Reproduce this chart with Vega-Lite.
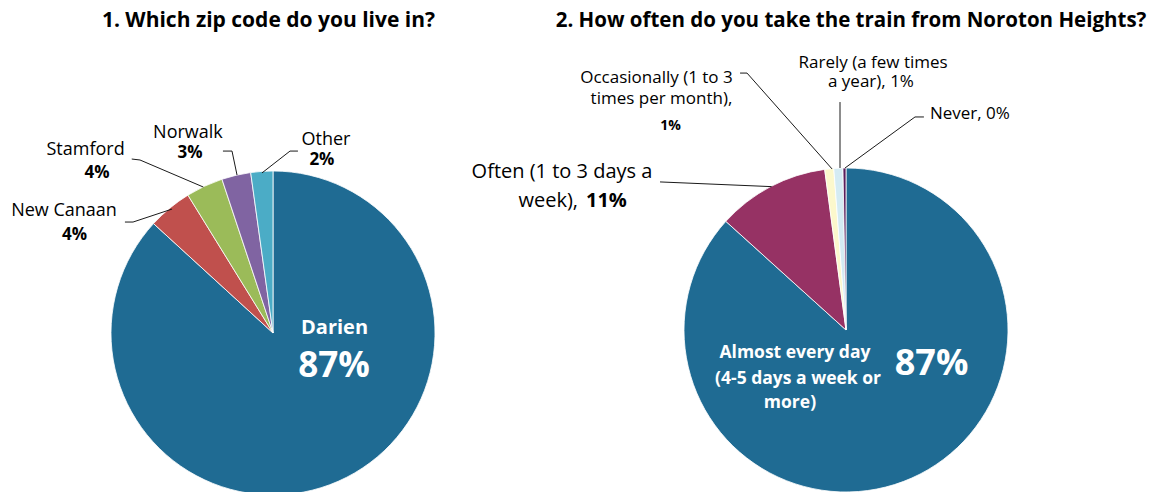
{
  "$schema": "https://vega.github.io/schema/vega-lite/v6.json",
  "padding": 0,
  "spacing": 0,
  "config": {"view": {"stroke": null}, "font": "Open Sans", "text": {"font": "Open Sans"}},
  "resolve": {"scale": {"color": "independent", "theta": "independent"}},
  "datasets": {
    "zips": [
      {"zip": "Darien", "pct": 86.8, "rank": 1, "u": 0, "v": 0},
      {"zip": "New Canaan", "pct": 4.4, "rank": 2, "u": 0, "v": 0},
      {"zip": "Stamford", "pct": 3.7, "rank": 3, "u": 0, "v": 0},
      {"zip": "Norwalk", "pct": 2.9, "rank": 4, "u": 0, "v": 0},
      {"zip": "Other", "pct": 2.2, "rank": 5, "u": 0, "v": 0}
    ],
    "freq": [
      {"freq": "Almost every day (4-5 days a week or more)", "pct": 86.7, "rank": 1, "u": 0, "v": 0},
      {"freq": "Often (1 to 3 days a week)", "pct": 11.2, "rank": 2, "u": 0, "v": 0},
      {"freq": "Occasionally (1 to 3 times per month)", "pct": 0.9, "rank": 3, "u": 0, "v": 0},
      {"freq": "Rarely (a few times a year)", "pct": 0.9, "rank": 4, "u": 0, "v": 0},
      {"freq": "Never", "pct": 0.3, "rank": 5, "u": 0, "v": 0}
    ],
    "labels1": [
      {"text": "1. Which zip code do you live in?", "u": -2.8, "v": 188.9, "kind": "title"},
      {"text": "Stamford", "u": -115.7, "v": 109.9, "kind": "name"},
      {"text": "4%", "u": -108.6, "v": 95.7, "kind": "pct"},
      {"text": "New Canaan", "u": -129.0, "v": 72.2, "kind": "name"},
      {"text": "4%", "u": -122.5, "v": 57.4, "kind": "pct"},
      {"text": "Norwalk", "u": -52.5, "v": 120.4, "kind": "name"},
      {"text": "3%", "u": -51.2, "v": 108.0, "kind": "pct"},
      {"text": "Other", "u": 32.7, "v": 116.0, "kind": "name"},
      {"text": "2%", "u": 30.2, "v": 103.7, "kind": "pct"},
      {"text": "Darien", "u": 38.0, "v": -0.6, "kind": "inName"},
      {"text": "87%", "u": 37.7, "v": -27.2, "kind": "inPct"}
    ],
    "segs1": [
      {"u": -87.2, "v": 107.4, "u2": -82.1, "v2": 106.8},
      {"u": -82.1, "v": 106.8, "u2": -43.0, "v2": 90.1},
      {"u": -91.4, "v": 68.5, "u2": -86.4, "v2": 68.5},
      {"u": -86.4, "v": 68.5, "u2": -62.3, "v2": 76.5},
      {"u": -30.9, "v": 112.3, "u2": -25.3, "v2": 112.3},
      {"u": -25.3, "v": 112.3, "u2": -22.2, "v2": 97.5},
      {"u": 15.4, "v": 112.3, "u2": 10.5, "v2": 112.3},
      {"u": 10.5, "v": 112.3, "u2": -6.8, "v2": 98.8}
    ],
    "labels2": [
      {"text": "2. How often do you take the train from Noroton Heights?", "u": 3.1, "v": 187.0, "kind": "title"},
      {"text": "Occasionally (1 to 3", "u": -117.0, "v": 152.5, "kind": "name"},
      {"text": "times per month),", "u": -113.9, "v": 139.5, "kind": "name"},
      {"text": "1%", "u": -108.3, "v": 123.5, "kind": "pct"},
      {"text": "Rarely (a few times", "u": 16.7, "v": 161.7, "kind": "name"},
      {"text": "a year), 1%", "u": 15.4, "v": 150.0, "kind": "name"},
      {"text": "Never, 0%", "u": 76.5, "v": 130.2, "kind": "name"},
      {"text": "Often (1 to 3 days a", "u": -175.3, "v": 93.8, "kind": "big"},
      {"text": "week),", "u": -165.4, "v": 75.9, "kind": "bigR"},
      {"text": "11%", "u": -160.5, "v": 75.9, "kind": "bigPctL"},
      {"text": "Almost every day", "u": -31.5, "v": -17.3, "kind": "inName"},
      {"text": "(4-5 days a week or", "u": -29.6, "v": -33.3, "kind": "inName"},
      {"text": "more)", "u": -34.6, "v": -48.1, "kind": "inName"},
      {"text": "87%", "u": 52.8, "v": -27.8, "kind": "inPct"}
    ],
    "segs2": [
      {"u": -65.4, "v": 158.6, "u2": -61.1, "v2": 158.6},
      {"u": -61.1, "v": 158.6, "u2": -8.6, "v2": 99.4},
      {"u": -3.7, "v": 140.7, "u2": -3.7, "v2": 100.0},
      {"u": 42.6, "v": 131.5, "u2": 48.1, "v2": 131.5},
      {"u": 42.6, "v": 131.5, "u2": -0.6, "v2": 100.0},
      {"u": -114.8, "v": 91.4, "u2": -45.9, "v2": 88.5}
    ]
  },
  "hconcat": [
    {
      "width": 455,
      "height": 492,
      "encoding": {
        "x": {"field": "u", "type": "quantitative", "scale": {"domain": [-168.52, 112.35], "nice": false, "zero": false}, "axis": null},
        "y": {"field": "v", "type": "quantitative", "scale": {"domain": [-98.15, 205.56], "nice": false, "zero": false}, "axis": null}
      },
      "layer": [
        {
          "data": {"name": "zips"},
          "mark": {"type": "arc", "outerRadius": 162, "stroke": "#ffffff", "strokeWidth": 0.8, "clip": true},
          "encoding": {
            "theta": {"field": "pct", "type": "quantitative", "stack": true},
            "order": {"field": "rank", "type": "quantitative", "sort": "ascending"},
            "color": {"field": "zip", "type": "nominal", "scale": {"domain": ["Darien", "New Canaan", "Stamford", "Norwalk", "Other"], "range": ["#1F6B93", "#C0504D", "#9BBB59", "#8064A2", "#4BACC6"]}, "legend": null}
          }
        },
        {
          "data": {"name": "segs1"},
          "mark": {"type": "rule", "color": "#1a1a1a", "strokeWidth": 1},
          "encoding": {"x2": {"field": "u2"}, "y2": {"field": "v2"}}
        },
        {
          "data": {"name": "labels1"},
          "transform": [{"filter": "datum.kind === 'title'"}],
          "mark": {"type": "text", "fontSize": 21, "fontWeight": "bold", "align": "center", "baseline": "alphabetic", "color": "#000000"},
          "encoding": {"text": {"field": "text"}}
        },
        {
          "data": {"name": "labels1"},
          "transform": [{"filter": "datum.kind === 'name'"}],
          "mark": {"type": "text", "fontSize": 18, "align": "center", "baseline": "alphabetic", "color": "#000000"},
          "encoding": {"text": {"field": "text"}}
        },
        {
          "data": {"name": "labels1"},
          "transform": [{"filter": "datum.kind === 'pct'"}],
          "mark": {"type": "text", "fontSize": 17, "fontWeight": "bold", "align": "center", "baseline": "alphabetic", "color": "#000000"},
          "encoding": {"text": {"field": "text"}}
        },
        {
          "data": {"name": "labels1"},
          "transform": [{"filter": "datum.kind === 'inName'"}],
          "mark": {"type": "text", "fontSize": 20, "fontWeight": "bold", "align": "center", "baseline": "alphabetic", "color": "#ffffff"},
          "encoding": {"text": {"field": "text"}}
        },
        {
          "data": {"name": "labels1"},
          "transform": [{"filter": "datum.kind === 'inPct'"}],
          "mark": {"type": "text", "fontSize": 35, "fontWeight": "bold", "align": "center", "baseline": "alphabetic", "color": "#ffffff"},
          "encoding": {"text": {"field": "text"}}
        }
      ]
    },
    {
      "width": 698,
      "height": 492,
      "encoding": {
        "x": {"field": "u", "type": "quantitative", "scale": {"domain": [-241.36, 189.51], "nice": false, "zero": false}, "axis": null},
        "y": {"field": "v", "type": "quantitative", "scale": {"domain": [-100, 203.7], "nice": false, "zero": false}, "axis": null}
      },
      "layer": [
        {
          "data": {"name": "freq"},
          "mark": {"type": "arc", "outerRadius": 162, "stroke": "#ffffff", "strokeWidth": 0.8, "clip": true},
          "encoding": {
            "theta": {"field": "pct", "type": "quantitative", "stack": true},
            "order": {"field": "rank", "type": "quantitative", "sort": "ascending"},
            "color": {"field": "freq", "type": "nominal", "scale": {"domain": ["Almost every day (4-5 days a week or more)", "Often (1 to 3 days a week)", "Occasionally (1 to 3 times per month)", "Rarely (a few times a year)", "Never"], "range": ["#1F6B93", "#963264", "#FCF8CC", "#D4EBF3", "#5A1E5C"]}, "legend": null}
          }
        },
        {
          "data": {"name": "segs2"},
          "mark": {"type": "rule", "color": "#1a1a1a", "strokeWidth": 1},
          "encoding": {"x2": {"field": "u2"}, "y2": {"field": "v2"}}
        },
        {
          "data": {"name": "labels2"},
          "transform": [{"filter": "datum.kind === 'title'"}],
          "mark": {"type": "text", "fontSize": 20.5, "fontWeight": "bold", "align": "center", "baseline": "alphabetic", "color": "#000000"},
          "encoding": {"text": {"field": "text"}}
        },
        {
          "data": {"name": "labels2"},
          "transform": [{"filter": "datum.kind === 'name'"}],
          "mark": {"type": "text", "fontSize": 17, "align": "center", "baseline": "alphabetic", "color": "#000000"},
          "encoding": {"text": {"field": "text"}}
        },
        {
          "data": {"name": "labels2"},
          "transform": [{"filter": "datum.kind === 'pct'"}],
          "mark": {"type": "text", "fontSize": 14, "fontWeight": "bold", "align": "center", "baseline": "alphabetic", "color": "#000000"},
          "encoding": {"text": {"field": "text"}}
        },
        {
          "data": {"name": "labels2"},
          "transform": [{"filter": "datum.kind === 'big'"}],
          "mark": {"type": "text", "fontSize": 20, "align": "center", "baseline": "alphabetic", "color": "#000000"},
          "encoding": {"text": {"field": "text"}}
        },
        {
          "data": {"name": "labels2"},
          "transform": [{"filter": "datum.kind === 'bigR'"}],
          "mark": {"type": "text", "fontSize": 20, "align": "right", "baseline": "alphabetic", "color": "#000000"},
          "encoding": {"text": {"field": "text"}}
        },
        {
          "data": {"name": "labels2"},
          "transform": [{"filter": "datum.kind === 'bigPctL'"}],
          "mark": {"type": "text", "fontSize": 20, "fontWeight": "bold", "align": "left", "baseline": "alphabetic", "color": "#000000"},
          "encoding": {"text": {"field": "text"}}
        },
        {
          "data": {"name": "labels2"},
          "transform": [{"filter": "datum.kind === 'inName'"}],
          "mark": {"type": "text", "fontSize": 17.5, "fontWeight": "bold", "align": "center", "baseline": "alphabetic", "color": "#ffffff"},
          "encoding": {"text": {"field": "text"}}
        },
        {
          "data": {"name": "labels2"},
          "transform": [{"filter": "datum.kind === 'inPct'"}],
          "mark": {"type": "text", "fontSize": 36, "fontWeight": "bold", "align": "center", "baseline": "alphabetic", "color": "#ffffff"},
          "encoding": {"text": {"field": "text"}}
        }
      ]
    }
  ]
}
